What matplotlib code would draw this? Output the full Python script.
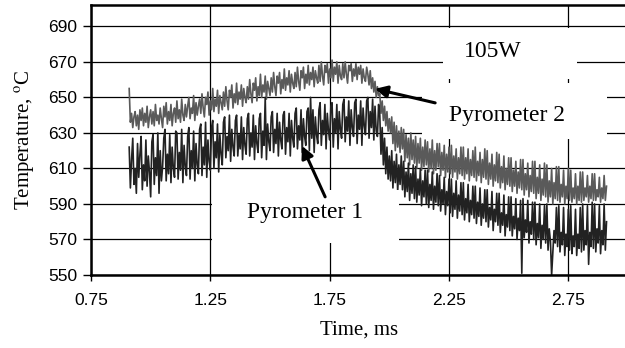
import numpy as np
import matplotlib
matplotlib.use("Agg")
import matplotlib.pyplot as plt
from matplotlib.patches import Rectangle

# sample times: 0.91 ms onwards, one reading every 0.005 ms
t_start = 0.91
dt = 0.005

# Pyrometer 2 (grey trace), degC
pyro2 = [
    655, 636, 641, 633, 639, 642, 634, 640, 632, 643, 637, 644, 634, 641, 636, 645, 633, 639, 643, 635,
    642, 634, 646, 637, 640, 635, 644, 638, 633, 645, 639, 647, 635, 642, 637, 646, 634, 641, 644, 636,
    648, 638, 643, 636, 649, 640, 637, 646, 639, 645, 650, 638, 644, 641, 651, 637, 647, 640, 645, 649,
    641, 652, 644, 639, 650, 646, 653, 640, 648, 643, 655, 642, 649, 645, 654, 641, 651, 647, 643, 653,
    645, 656, 648, 643, 654, 650, 657, 644, 652, 647, 658, 646, 653, 649, 657, 645, 655, 650, 647, 656,
    649, 660, 652, 647, 658, 654, 661, 648, 656, 651, 663, 650, 657, 653, 662, 649, 659, 655, 651, 661,
    653, 664, 656, 651, 662, 658, 664, 652, 660, 655, 666, 654, 661, 657, 665, 653, 663, 658, 655, 664,
    656, 667, 659, 654, 665, 661, 667, 655, 663, 658, 668, 657, 664, 660, 667, 656, 665, 661, 658, 668,
    659, 670, 662, 657, 668, 664, 669, 658, 666, 661, 671, 659, 667, 663, 670, 658, 668, 662, 660, 669,
    661, 670, 663, 658, 668, 665, 669, 659, 666, 662, 669, 660, 667, 663, 668, 658, 666, 661, 659, 667,
    663, 657, 665, 655, 661, 653, 659, 650, 656, 651, 652, 641, 648, 637, 645, 634, 642, 631, 638, 630,
    639, 624, 636, 620, 634, 622, 631, 619, 633, 621, 632, 614, 629, 616, 627, 612, 630, 615, 626, 613,
    628, 610, 624, 613, 627, 609, 622, 611, 626, 612, 625, 608, 621, 610, 626, 607, 620, 609, 624, 611,
    624, 606, 619, 609, 623, 605, 618, 608, 622, 607, 623, 605, 617, 608, 621, 604, 616, 607, 622, 606,
    622, 604, 616, 607, 621, 603, 615, 606, 620, 605, 622, 603, 614, 606, 619, 602, 615, 605, 621, 604,
    620, 601, 613, 604, 618, 600, 612, 603, 619, 602, 618, 599, 611, 602, 617, 598, 610, 601, 616, 600,
    616, 597, 609, 600, 614, 596, 608, 599, 615, 598, 615, 595, 607, 598, 613, 594, 606, 597, 614, 596,
    614, 593, 605, 596, 612, 592, 604, 595, 613, 594, 612, 591, 603, 594, 610, 590, 602, 593, 611, 592,
    611, 591, 601, 594, 609, 590, 600, 593, 610, 592, 609, 591, 599, 593, 607, 590, 600, 592, 608, 591,
    608, 592, 599, 594, 606, 591, 600, 593, 607, 592, 607, 592, 598, 594, 605, 591, 599, 593, 606, 592,
    600,
]

# Pyrometer 1 (dark trace)
pyro1 = [
    622, 599, 615, 627, 601, 610, 596, 624, 605, 618, 628, 598, 612, 603, 626, 600, 617, 608, 594, 625,
    629, 601, 616, 606, 630, 596, 620, 603, 611, 627, 632, 603, 618, 607, 629, 602, 622, 610, 605, 631,
    630, 604, 619, 609, 632, 602, 623, 611, 606, 628, 633, 604, 620, 610, 631, 603, 624, 612, 607, 632,
    635, 606, 622, 612, 636, 605, 626, 614, 609, 633, 637, 610, 625, 616, 635, 608, 629, 618, 612, 636,
    639, 616, 628, 620, 640, 614, 632, 622, 617, 637, 640, 617, 629, 621, 639, 615, 633, 623, 618, 638,
    641, 617, 630, 622, 640, 615, 634, 624, 619, 638, 641, 616, 631, 623, 650, 615, 635, 625, 620, 639,
    642, 619, 632, 624, 641, 617, 636, 626, 621, 640, 642, 618, 633, 625, 641, 617, 637, 627, 622, 641,
    644, 621, 634, 626, 643, 619, 638, 628, 623, 642, 644, 620, 650, 627, 643, 619, 639, 629, 624, 643,
    647, 623, 637, 629, 646, 621, 641, 631, 626, 645, 647, 622, 638, 630, 646, 621, 642, 632, 627, 646,
    649, 625, 639, 631, 648, 623, 643, 633, 628, 647, 649, 624, 640, 632, 648, 623, 644, 634, 629, 648,
    650, 627, 642, 633, 649, 626, 645, 631, 628, 646, 640, 618, 633, 612, 627, 607, 622, 604, 617, 603,
    620, 599, 614, 602, 618, 597, 612, 601, 617, 598, 614, 594, 608, 597, 613, 592, 607, 596, 612, 593,
    611, 591, 604, 595, 610, 589, 603, 594, 609, 590, 609, 588, 601, 592, 608, 587, 600, 591, 607, 589,
    606, 586, 598, 590, 605, 584, 597, 589, 604, 585, 604, 583, 596, 587, 603, 582, 595, 586, 602, 584,
    602, 581, 593, 585, 601, 580, 592, 584, 600, 582, 600, 579, 591, 583, 599, 578, 590, 582, 598, 580,
    598, 577, 588, 581, 597, 575, 587, 580, 596, 578, 596, 574, 585, 578, 595, 572, 584, 577, 594, 575,
    594, 572, 583, 576, 593, 570, 582, 575, 592, 551, 593, 571, 581, 574, 592, 568, 580, 573, 591, 570,
    591, 567, 579, 571, 590, 565, 578, 570, 589, 568, 590, 564, 576, 569, 550, 563, 575, 568, 588, 566,
    589, 563, 574, 567, 588, 561, 573, 566, 587, 564, 589, 562, 572, 566, 587, 561, 573, 565, 588, 563,
    590, 564, 575, 567, 589, 556, 574, 566, 591, 565, 590, 563, 576, 568, 589, 562, 575, 567, 590, 564,
    580,
]

xticks = [0.75, 1.25, 1.75, 2.25, 2.75]
yticks = [550, 570, 590, 610, 630, 650, 670, 690]

t2 = t_start + dt * np.arange(len(pyro2))
t1 = t_start + dt * np.arange(len(pyro1))

plt.rcParams['mathtext.fontset'] = 'stix'
serif = 'Liberation Serif'
sans = 'Liberation Sans'

fig = plt.figure(figsize=(6.25, 3.48), dpi=100)
ax = fig.add_axes([91/625, 73/348, 537/625, 270/348])

ax.plot(t2, pyro2, color='#5a5a5a', lw=1.2, zorder=2)
ax.plot(t1, pyro1, color='#222222', lw=1.2, zorder=2.1)

ax.set_xlim(0.75, 3.0)
ax.set_ylim(550, 702)
ax.set_xticks(xticks)
ax.set_xticklabels([f"{v:.2f}" for v in xticks], fontfamily=sans, fontsize=12.5)
ax.set_yticks(yticks)
ax.set_yticklabels([str(v) for v in yticks], fontfamily=sans, fontsize=12.5)
ax.tick_params(axis='y', direction='out', length=6, width=1, pad=4)
ax.tick_params(axis='x', direction='out', length=4, width=1, pad=9)
ax.grid(True, color='black', lw=0.9, zorder=2.5)
for s in ax.spines.values():
    s.set_linewidth(1.8)
    s.set_zorder(5)

# white boxes behind the labels cut the grid lines
for x0, y0, x1, y1 in [(2.225, 660.5, 2.787, 689), (2.137, 626.5, 2.913, 658),
                       (1.257, 568, 2.041, 598)]:
    ax.add_patch(Rectangle((x0, y0), x1 - x0, y1 - y0, facecolor='white',
                           edgecolor='none', zorder=3))

ax.text(2.435, 675.6, "105W", fontfamily=serif, fontsize=17, ha='center', va='center', zorder=4)
ax.text(2.494, 640, "Pyrometer 2", fontfamily=serif, fontsize=17, ha='center', va='center', zorder=4)
ax.text(1.647, 585, "Pyrometer 1", fontfamily=serif, fontsize=17, ha='center', va='center', zorder=4)

arrow = dict(arrowstyle='-|>', color='black', lw=2.2, mutation_scale=18, shrinkA=0, shrinkB=0)
ax.annotate("", xy=(1.940, 654.8), xytext=(2.192, 646.9), arrowprops=arrow, zorder=4)
ax.annotate("", xy=(1.634, 622.7), xytext=(1.731, 594), arrowprops=arrow, zorder=4)

ax.set_xlabel("Time, ms", fontfamily=serif, fontsize=15, labelpad=9)
ax.set_ylabel("Temperature, $^{\\mathrm{o}}$C", fontfamily=serif, fontsize=15, labelpad=8)

fig.savefig("out.png", dpi=100)
